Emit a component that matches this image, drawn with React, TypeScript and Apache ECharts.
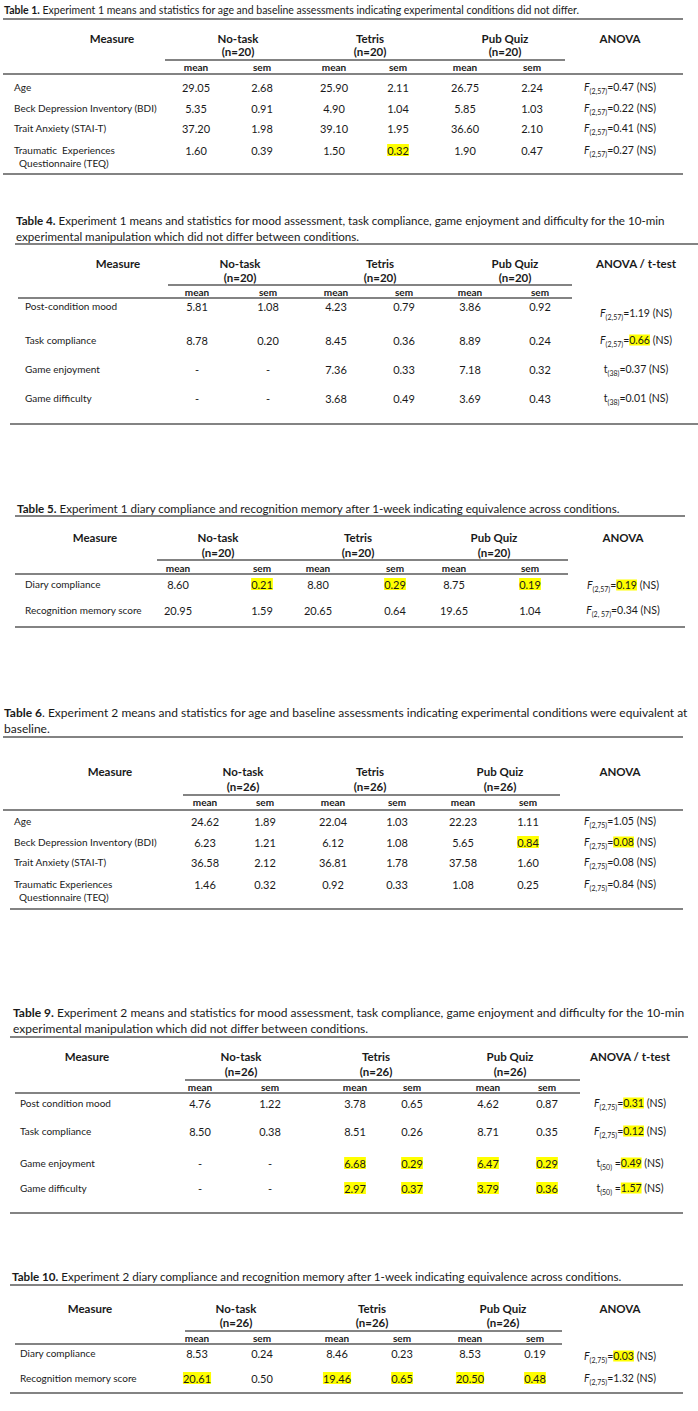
import React, { useEffect, useRef } from 'react';
import * as echarts from 'echarts';

// ---------- data ----------
const conditions = ['No-task', 'Tetris', 'Pub Quiz'];
const subHeaders = ['mean', 'sem', 'mean', 'sem', 'mean', 'sem'];

const t1Caption = ['Table 1.', ' Experiment 1 means and statistics for age and baseline assessments indicating experimental conditions did not differ.'];
const t1N = '(n=20)';
const t1TestLabel = 'ANOVA';
const t1Measures = [['Age'], ['Beck Depression Inventory (BDI)'], ['Trait Anxiety (STAI-T)'], ['Traumatic  Experiences', '  Questionnaire (TEQ)']];
const t1Values = [
  ['29.05', '2.68', '25.90', '2.11', '26.75', '2.24'],
  ['5.35', '0.91', '4.90', '1.04', '5.85', '1.03'],
  ['37.20', '1.98', '39.10', '1.95', '36.60', '2.10'],
  ['1.60', '0.39', '1.50', '0.32', '1.90', '0.47'],
];
const t1Tests = [['F', '(2,57)', '=', '0.47'], ['F', '(2,57)', '=', '0.22'], ['F', '(2,57)', '=', '0.41'], ['F', '(2,57)', '=', '0.27']];
const t1Marked = [[3, 3]];
const t1MarkedTests: number[] = [];

const t4Caption = ['Table 4.', ' Experiment 1 means and statistics for mood assessment, task compliance, game enjoyment and difficulty for the 10-min', 'experimental manipulation which did not differ between conditions.'];
const t4N = '(n=20)';
const t4TestLabel = 'ANOVA / t-test';
const t4Measures = [['Post-condition mood'], ['Task compliance'], ['Game enjoyment'], ['Game difficulty']];
const t4Values = [
  ['5.81', '1.08', '4.23', '0.79', '3.86', '0.92'],
  ['8.78', '0.20', '8.45', '0.36', '8.89', '0.24'],
  ['-', '-', '7.36', '0.33', '7.18', '0.32'],
  ['-', '-', '3.68', '0.49', '3.69', '0.43'],
];
const t4Tests = [['F', '(2,57)', '=', '1.19'], ['F', '(2,57)', '=', '0.66'], ['t', '(38)', '=', '0.37'], ['t', '(38)', '=', '0.01']];
const t4Marked: number[][] = [];
const t4MarkedTests = [1];

const t5Caption = ['Table 5.', ' Experiment 1 diary compliance and recognition memory after 1-week indicating equivalence across conditions.'];
const t5N = '(n=20)';
const t5TestLabel = 'ANOVA';
const t5Measures = [['Diary compliance'], ['Recognition memory score']];
const t5Values = [
  ['8.60', '0.21', '8.80', '0.29', '8.75', '0.19'],
  ['20.95', '1.59', '20.65', '0.64', '19.65', '1.04'],
];
const t5Tests = [['F', '(2,57)', '=', '0.19'], ['F', '(2, 57)', '=', '0.34']];
const t5Marked = [[0, 1], [0, 3], [0, 5]];
const t5MarkedTests = [0];

const t6Caption = ['Table 6', '. Experiment 2 means and statistics for age and baseline assessments indicating experimental conditions were equivalent at', 'baseline.'];
const t6N = '(n=26)';
const t6TestLabel = 'ANOVA';
const t6Measures = [['Age'], ['Beck Depression Inventory (BDI)'], ['Trait Anxiety (STAI-T)'], ['Traumatic Experiences', '  Questionnaire (TEQ)']];
const t6Values = [
  ['24.62', '1.89', '22.04', '1.03', '22.23', '1.11'],
  ['6.23', '1.21', '6.12', '1.08', '5.65', '0.84'],
  ['36.58', '2.12', '36.81', '1.78', '37.58', '1.60'],
  ['1.46', '0.32', '0.92', '0.33', '1.08', '0.25'],
];
const t6Tests = [['F', '(2,75)', '=', '1.05'], ['F', '(2,75)', '=', '0.08'], ['F', '(2,75)', '=', '0.08'], ['F', '(2,75)', '=', '0.84']];
const t6Marked = [[1, 5]];
const t6MarkedTests = [1];

const t9Caption = ['Table 9.', ' Experiment 2 means and statistics for mood assessment, task compliance, game enjoyment and difficulty for the 10-min', 'experimental manipulation which did not differ between conditions.'];
const t9N = '(n=26)';
const t9TestLabel = 'ANOVA / t-test';
const t9Measures = [['Post condition mood'], ['Task compliance'], ['Game enjoyment'], ['Game difficulty']];
const t9Values = [
  ['4.76', '1.22', '3.78', '0.65', '4.62', '0.87'],
  ['8.50', '0.38', '8.51', '0.26', '8.71', '0.35'],
  ['-', '-', '6.68', '0.29', '6.47', '0.29'],
  ['-', '-', '2.97', '0.37', '3.79', '0.36'],
];
const t9Tests = [['F', '(2,75)', '=', '0.31'], ['F', '(2,75)', '=', '0.12'], ['t', '(50)', ' =', '0.49'], ['t', '(50)', ' =', '1.57']];
const t9Marked = [[2, 2], [2, 3], [2, 4], [2, 5], [3, 2], [3, 3], [3, 4], [3, 5]];
const t9MarkedTests = [0, 1, 2, 3];

const t10Caption = ['Table 10.', ' Experiment 2 diary compliance and recognition memory after 1-week indicating equivalence across conditions.'];
const t10N = '(n=26)';
const t10TestLabel = 'ANOVA';
const t10Measures = [['Diary compliance'], ['Recognition memory score']];
const t10Values = [
  ['8.53', '0.24', '8.46', '0.23', '8.53', '0.19'],
  ['20.61', '0.50', '19.46', '0.65', '20.50', '0.48'],
];
const t10Tests = [['F', '(2,75)', '=', '0.03'], ['F', '(2,75)', '=', '1.32']];
const t10Marked = [[1, 0], [1, 2], [1, 3], [1, 4], [1, 5]];
const t10MarkedTests = [0];

// ---------- layout & style ----------
const FONT = 'Lato, "Open Sans", sans-serif';
const INK = '#1a1a1a';
const RULE = '#5a5a5a';
const HL = '#ffff00';
const BODY = 11;

type Layout = {
  capX: number; capY: number[]; capSize: number; capLine: number[];
  hdrY: number; nY: number; grpLine: number[]; subY: number; subLine: number[];
  rowX: number; rowY: number[]; testDy?: number[]; botLine: number[];
  measureX: number; grpX: number[]; testX: number; colX: number[];
};

function hline(l: number[]) {
  return { type: 'line', shape: { x1: l[1], y1: l[0], x2: l[2], y2: l[0] }, style: { stroke: RULE, lineWidth: 1.5 }, silent: true };
}

function txt(text: string, x: number, y: number, o: any = {}) {
  return {
    type: 'text', x, y, silent: true,
    style: { text, fill: INK, fontFamily: FONT, fontSize: BODY, align: 'center', verticalAlign: 'middle', ...o },
  };
}

function buildTable(caption: string[], n: string, testLabel: string, measures: string[][], values: string[][],
  tests: string[][], marked: number[][], markedTests: number[], L: Layout) {
  const els: any[] = [];
  const cs = L.capSize;
  els.push(txt(`{b|${caption[0]}}{r|${caption[1]}}`, L.capX, L.capY[0], {
    align: 'left', rich: { b: { fontWeight: 'bold', fontFamily: FONT, fontSize: cs, fill: INK }, r: { fontFamily: FONT, fontSize: cs, fill: INK } },
  }));
  if (caption[2]) els.push(txt(caption[2], L.capX, L.capY[1], { align: 'left', fontSize: cs }));
  els.push(hline(L.capLine));
  els.push(txt('Measure', L.measureX, L.hdrY, { fontWeight: 'bold', fontSize: 11.5 }));
  conditions.forEach((c, i) => {
    els.push(txt(c, L.grpX[i], L.hdrY, { fontWeight: 'bold', fontSize: 11.5 }));
    els.push(txt(n, L.grpX[i], L.nY, { fontWeight: 'bold', fontSize: 11.5 }));
  });
  els.push(txt(testLabel, L.testX, L.hdrY, { fontWeight: 'bold', fontSize: 11.5 }));
  els.push(hline(L.grpLine));
  subHeaders.forEach((s, i) => els.push(txt(s, L.colX[i], L.subY, { fontWeight: 'bold', fontSize: 10 })));
  els.push(hline(L.subLine));
  measures.forEach((m, r) => {
    const y = L.rowY[r];
    els.push(txt(m[0], L.rowX, y, { align: 'left', fontSize: 10 }));
    if (m[1]) els.push(txt(m[1], L.rowX, y + 13, { align: 'left', fontSize: 10 }));
    values[r].forEach((v, c) => {
      const isMarked = marked.some((p) => p[0] === r && p[1] === c);
      els.push(txt(v, L.colX[c], y, isMarked ? { backgroundColor: HL, padding: [1, 0, 0, 0] } : {}));
    });
    const t = tests[r];
    const hl = markedTests.indexOf(r) >= 0;
    const dy = L.testDy ? L.testDy[r] : 0;
    els.push(txt(`{s|${t[0]}}{d|${t[1]}}{e|${t[2]}}{v|${t[3]}}{e| (NS)}`, L.testX, y + dy, {
      rich: {
        s: { fontFamily: FONT, fontSize: 10.5, fill: INK, fontStyle: t[0] === 'F' ? 'italic' : 'normal', lineHeight: 14, verticalAlign: 'middle' },
        d: { fontFamily: FONT, fontSize: 7, fill: INK, lineHeight: 9, verticalAlign: 'bottom' },
        e: { fontFamily: FONT, fontSize: 10.5, fill: INK, lineHeight: 14, verticalAlign: 'middle' },
        v: { fontFamily: FONT, fontSize: 10.5, fill: INK, lineHeight: 14, verticalAlign: 'middle', backgroundColor: hl ? HL : 'transparent' },
      },
    }));
  });
  els.push(hline(L.botLine));
  return els;
}

const L1: Layout = {
  capX: 4, capY: [10], capSize: 10.5, capLine: [19, 3, 683], hdrY: 38, nY: 51, grpLine: [60, 165, 565], subY: 67, subLine: [74, 3, 683],
  rowX: 14, rowY: [87, 108, 128, 150], botLine: [174, 3, 683], measureX: 112, grpX: [238, 370, 505], testX: 620,
  colX: [196, 262, 334, 398, 465, 532],
};
const L4: Layout = {
  capX: 16, capY: [220, 236], capSize: 11.6, capLine: [244, 15, 698], hdrY: 263, nY: 277, grpLine: [285, 168, 572], subY: 292, subLine: [298, 18, 572],
  rowX: 25, rowY: [306, 340, 369, 398], testDy: [7, 0, 0, 0], botLine: [424, 10, 698], measureX: 118, grpX: [240, 380, 515], testX: 636,
  colX: [197, 268, 336, 404, 470, 540],
};
const L5: Layout = {
  capX: 17, capY: [508], capSize: 11.6, capLine: [516, 15, 685], hdrY: 537, nY: 552, grpLine: [560, 157, 568], subY: 568, subLine: [574, 15, 568],
  rowX: 25, rowY: [584, 610], testDy: [1, 0], botLine: [627, 15, 685], measureX: 95, grpX: [218, 358, 494], testX: 623,
  colX: [178, 262, 318, 395, 454, 530],
};
const L6: Layout = {
  capX: 4, capY: [712, 728], capSize: 12, capLine: [737, 3, 683], hdrY: 771, nY: 786, grpLine: [795, 183, 560], subY: 802, subLine: [810, 3, 683],
  rowX: 14, rowY: [821, 842, 862, 884], botLine: [909, 10, 683], measureX: 110, grpX: [243, 370, 500], testX: 620,
  colX: [205, 265, 333, 397, 463, 528],
};
const L9: Layout = {
  capX: 13, capY: [1012, 1028], capSize: 12, capLine: [1037, 10, 688], hdrY: 1056, nY: 1071, grpLine: [1080, 185, 580], subY: 1087, subLine: [1093, 15, 580],
  rowX: 20, rowY: [1103, 1131, 1163, 1188], botLine: [1213, 10, 683], measureX: 87, grpX: [241, 376, 510], testX: 630,
  colX: [200, 270, 355, 412, 488, 547],
};
const L10: Layout = {
  capX: 12, capY: [1276], capSize: 11.6, capLine: [1285, 10, 683], hdrY: 1308, nY: 1322, grpLine: [1331, 185, 562], subY: 1338, subLine: [1344, 15, 562],
  rowX: 20, rowY: [1353, 1378], testDy: [3, 0], botLine: [1393, 10, 683], measureX: 90, grpX: [236, 372, 503], testX: 620,
  colX: [197, 262, 337, 402, 470, 535],
};

export default function App() {
  const ref = useRef<HTMLDivElement>(null);
  useEffect(() => {
    if (!ref.current) return;
    const chart = echarts.init(ref.current, undefined, { renderer: 'svg' });
    const elements = [
      ...buildTable(t1Caption, t1N, t1TestLabel, t1Measures, t1Values, t1Tests, t1Marked, t1MarkedTests, L1),
      ...buildTable(t4Caption, t4N, t4TestLabel, t4Measures, t4Values, t4Tests, t4Marked, t4MarkedTests, L4),
      ...buildTable(t5Caption, t5N, t5TestLabel, t5Measures, t5Values, t5Tests, t5Marked, t5MarkedTests, L5),
      ...buildTable(t6Caption, t6N, t6TestLabel, t6Measures, t6Values, t6Tests, t6Marked, t6MarkedTests, L6),
      ...buildTable(t9Caption, t9N, t9TestLabel, t9Measures, t9Values, t9Tests, t9Marked, t9MarkedTests, L9),
      ...buildTable(t10Caption, t10N, t10TestLabel, t10Measures, t10Values, t10Tests, t10Marked, t10MarkedTests, L10),
    ];
    chart.setOption({ animation: false, backgroundColor: '#ffffff', graphic: { elements } });
    return () => chart.dispose();
  }, []);
  return <div ref={ref} style={{ position: 'absolute', left: 0, top: 0, width: 698, height: 1411, background: '#fff' }} />;
}
